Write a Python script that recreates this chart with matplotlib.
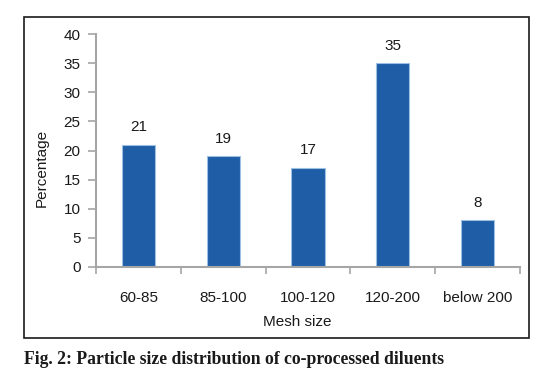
import numpy as np
import matplotlib
matplotlib.use("Agg")
import matplotlib.pyplot as plt
from matplotlib.patches import Rectangle

categories = ["60-85", "85-100", "100-120", "120-200", "below 200"]
percentages = [21, 19, 17, 35, 8]
yticks = [0, 5, 10, 15, 20, 25, 30, 35, 40]

W, H = 540, 372
fig = plt.figure(figsize=(W / 100, H / 100), dpi=100)
plt.rcParams["font.family"] = ["Liberation Sans", "DejaVu Sans"]

# axes area in pixels: x 96..520, y 34..267 (top-down)
ax = fig.add_axes([96 / W, 1 - 267 / H, (520 - 96) / W, (267 - 34) / H])

x = np.arange(len(categories))
ax.bar(x, percentages, width=0.39, color="#1f5ea6", edgecolor="#9dbfe3", linewidth=0.8)
for xi, v in zip(x, percentages):
    ax.text(xi, v + 1.8, str(v), ha="center", va="bottom", fontsize=11, color="#1a1a1a")

ax.set_xlim(-0.5, len(categories) - 0.5)
ax.set_ylim(0, 40)
ax.set_yticks(yticks)
ax.set_xticks(np.arange(len(categories) + 1) - 0.5, minor=False)
ax.set_xticklabels([])
ax.set_xticks(x, minor=True)
ax.set_xticklabels(categories, minor=True)
ax.tick_params(axis="x", which="minor", length=0, pad=17, labelsize=11, labelcolor="#1a1a1a")
ax.tick_params(axis="x", which="major", length=5, width=1.2, color="#a6a6a6")
ax.tick_params(axis="y", length=6, width=1.2, color="#a6a6a6", labelsize=11,
               labelcolor="#1a1a1a", pad=5)

for s in ["top", "right"]:
    ax.spines[s].set_visible(False)
for s in ["left", "bottom"]:
    ax.spines[s].set_color("#a6a6a6")
    ax.spines[s].set_linewidth(1.5)

ax.set_xlabel("Mesh size", fontsize=11, color="#1a1a1a", va="center")
ax.xaxis.set_label_coords((297 - 96) / 424, (267 - 322) / 233)
ax.set_ylabel("Percentage", fontsize=11, color="#1a1a1a", va="center")
ax.yaxis.set_label_coords((42 - 96) / 424, (267 - 168) / 233)

# outer frame
fig.patches.append(Rectangle((24 / W, 1 - 338 / H), (529 - 24) / W, (338 - 17) / H,
                             transform=fig.transFigure, fill=False,
                             edgecolor="#1a1a1a", linewidth=1.2))

fig.text(24 / W, 1 - 359 / H, "Fig. 2: Particle size distribution of co-processed diluents",
         family=["Liberation Serif", "DejaVu Serif"], fontweight="bold", fontsize=12.7,
         ha="left", va="center", color="#1a1a1a")

fig.savefig("out.png", dpi=100)
